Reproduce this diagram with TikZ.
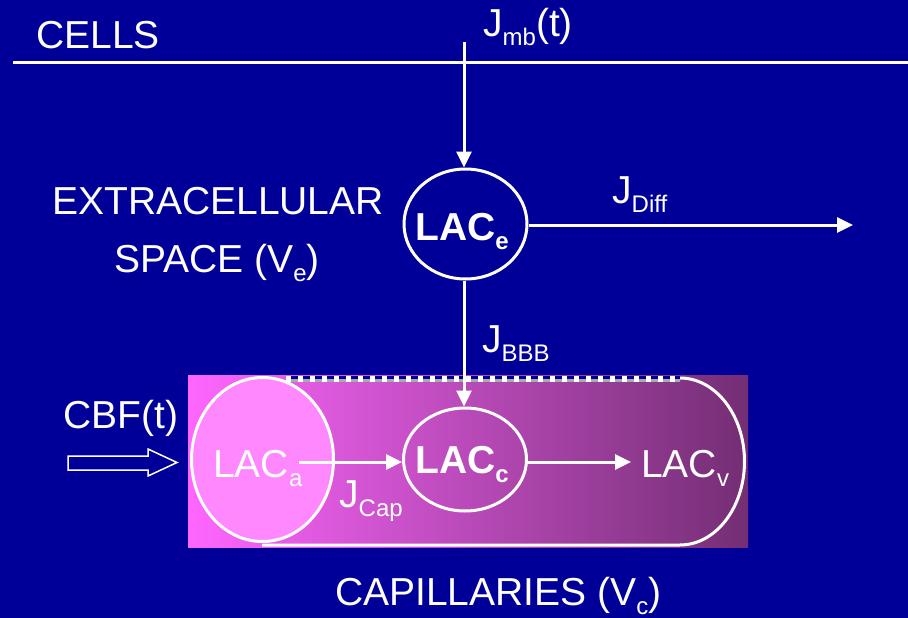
\documentclass[tikz,border=0pt]{standalone}
\usepackage{fontspec}
\setmainfont{Liberation Sans}
\usetikzlibrary{arrows.meta,shapes.geometric}
\definecolor{bgblue}{RGB}{0,0,153}
\definecolor{gradl}{RGB}{255,102,255}
\definecolor{gradr}{RGB}{115,46,115}
\definecolor{lacafill}{RGB}{255,136,255}
\definecolor{dashgray}{RGB}{170,170,170}
\newcommand\sbx[1]{\raisebox{-9pt}{\fontsize{24}{24}\selectfont #1}}
\tikzset{
  txt/.style={text=white, inner sep=0pt, anchor=base west, font=\fontsize{39}{44}\selectfont},
  ell/.style={ellipse, draw=white, line width=3pt, inner sep=0pt},
  arr/.style={draw=white, line width=3pt, -{Triangle[length=16pt,width=15pt]}},
  wline/.style={draw=white, line width=3pt}
}
\begin{document}
\begin{tikzpicture}[x=1pt,y=-1pt]
\useasboundingbox (0,0) rectangle (908,618);
\fill[bgblue] (0,0) rectangle (908,618);

% capillary region
\shade[left color=gradl, right color=gradr] (188,375) rectangle (748,547);
\draw[wline] (680,378) arc[start angle=-90, end angle=90, x radius=64.5, y radius=83.5] -- (262,545);
\draw[bgblue, line width=3pt] (286,377.5) -- (680,377.5);
\draw[dashgray, line width=3pt] (286,380.5) -- (680,380.5);
\draw[white, line width=6pt, dash pattern=on 5pt off 7pt] (286,379) -- (680,379);

% cells line
\coordinate (cl) at (13,63);
\coordinate (cr) at (908,63);
\draw[wline] (cl) -- (cr);

% nodes
\node[ell, minimum width=123pt, minimum height=110pt] (LACe) at (465.5,224) {};
\node[ell, fill=lacafill, minimum width=142pt, minimum height=164pt] (LACa) at (262.5,459.5) {};
\node[ell, minimum width=123pt, minimum height=103pt] (LACc) at (465,459.5) {};

% texts
\node[txt] (tcells) at (36,49) {CELLS};
\node[txt] (tjmb) at (483,37) {J\sbx{mb}(t)};
\node[txt] (tjdiff) at (612,203) {J\sbx{Diff}};
\node[txt, anchor=base] (text1) at (218,214) {EXTRACELLULAR};
\node[txt, anchor=base] (text2) at (217,272) {SPACE (V\sbx{e})};
\node[txt, font=\fontsize{39}{44}\selectfont\bfseries] (tlace) at (415,240) {LAC\sbx{e}};
\node[txt] (tjbbb) at (482,352) {J\sbx{BBB}};
\node[txt] (tcbf) at (63,428) {CBF(t)};
\node[txt] (tlaca) at (213,477) {LAC\sbx{a}};
\node[txt] (tjcap) at (339,507) {J\sbx{Cap}};
\node[txt, font=\fontsize{39}{44}\selectfont\bfseries] (tlacc) at (415,473) {LAC\sbx{c}};
\node[txt] (tlacv) at (641,477) {LAC\sbx{v}};
\node[txt] (tcap) at (335,605) {CAPILLARIES (V\sbx{c})};

% connectors
\coordinate (jtop) at (464,42);
\coordinate (diffend) at (853,225);
\coordinate (astart) at (299,462);
\coordinate (vend) at (631,462);
\draw[arr] (jtop) -- (jtop |- LACe.north);
\draw[arr] (LACe.east |- diffend) -- (diffend);
\draw[arr] (jtop |- LACe.south) -- (jtop |- LACc.north);
\draw[arr] (astart) -- (astart -| LACc.west);
\draw[arr] (astart -| LACc.east) -- (vend);

% hollow inflow arrow
\draw[white, line width=1.5pt, line join=miter]
  (68,456) -- (148,456) -- (148,449) -- (177,462.5) -- (148,476) -- (148,470) -- (68,470) -- cycle;
\end{tikzpicture}
\end{document}
